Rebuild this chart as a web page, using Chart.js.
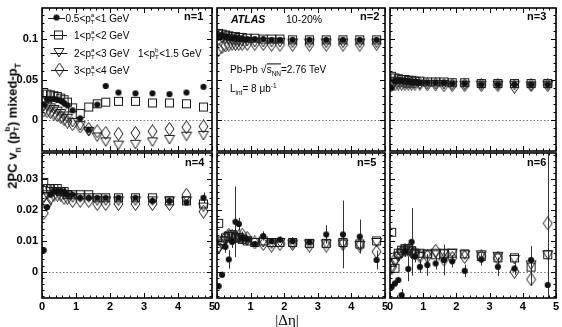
<!DOCTYPE html>
<html>
<head>
<meta charset="utf-8">
<script src="https://cdn.jsdelivr.net/npm/chart.js@4.4.1/dist/chart.umd.min.js"></script>
<style>
  body { margin: 0; background: #fff; width: 562px; height: 327px; position: relative; overflow: hidden;
         font-family: "Liberation Sans", Arial, sans-serif; color: #000; }
  canvas { position: absolute; }
  .t { position: absolute; white-space: nowrap; transform: translateY(-50%); line-height: 1.2; }
  .ss { display: inline-block; position: relative; width: 0.42em; height: 1em; }
  .ss .up, .ss .dn { position: absolute; left: 0; font-size: 0.62em; line-height: 1; }
  .ss .up { top: 0; }
  .ss .dn { top: 1.15em; }
  sub, sup { font-size: 0.65em; line-height: 0; }
</style>
</head>
<body>
<div id="charts"></div>

<div class="t" style="left:184px;top:17px;font-size:11px;font-weight:bold">n=1</div>
<div class="t" style="left:360px;top:17px;font-size:11px;font-weight:bold">n=2</div>
<div class="t" style="left:527px;top:17px;font-size:11px;font-weight:bold">n=3</div>
<div class="t" style="left:185px;top:163px;font-size:11px;font-weight:bold">n=4</div>
<div class="t" style="left:357px;top:163px;font-size:11px;font-weight:bold">n=5</div>
<div class="t" style="left:527px;top:163px;font-size:11px;font-weight:bold">n=6</div>

<div class="t" style="left:231px;top:19px;font-size:10.5px;font-weight:bold;font-style:italic">ATLAS</div>
<div class="t" style="left:286px;top:19px;font-size:10.5px">10-20%</div>
<div class="t" style="left:230px;top:70px;font-size:10px">Pb-Pb <span style="font-size:11px">&#8730;</span><span style="border-top:1px solid #000">s<sub>NN</sub></span>=2.76 TeV</div>
<div class="t" style="left:230px;top:89px;font-size:10px">L<sub>int</sub>= 8 &#956;b<sup>-1</sup></div>

<div class="t" style="left:65.5px;top:17.5px;font-size:10px">0.5&lt;p<span class="ss"><span class="up">a</span><span class="dn">T</span></span>&lt;1 GeV</div>
<div class="t" style="left:74px;top:35px;font-size:10px">1&lt;p<span class="ss"><span class="up">a</span><span class="dn">T</span></span>&lt;2 GeV</div>
<div class="t" style="left:74px;top:52.5px;font-size:10px">2&lt;p<span class="ss"><span class="up">a</span><span class="dn">T</span></span>&lt;3 GeV</div>
<div class="t" style="left:138px;top:52.5px;font-size:10px">1&lt;p<span class="ss"><span class="up">b</span><span class="dn">T</span></span>&lt;1.5 GeV</div>
<div class="t" style="left:74px;top:69.5px;font-size:10px">3&lt;p<span class="ss"><span class="up">a</span><span class="dn">T</span></span>&lt;4 GeV</div>

<div class="t" style="left:12px;top:126px;font-size:13px;font-weight:bold;transform:translate(-50%,-50%) rotate(-90deg)">2PC v<sub>n</sub> (p<span class="ss"><span class="up">b</span><span class="dn">T</span></span>) mixed-p<sub>T</sub></div>
<div class="t" style="left:287px;top:320px;font-size:15px;font-family:'Liberation Serif',serif;transform:translate(-50%,-50%)">|&#916;&#951;|</div>

<script>
// |Delta eta| bin centres
const deta = [0.05, 0.15, 0.25, 0.35, 0.45, 0.55, 0.65, 0.75, 0.9, 1.125, 1.375, 1.625, 1.875, 2.25, 2.75, 3.25, 3.75, 4.25, 4.75];

// n=1
const n1Circ = [0.019, 0.026, 0.026, 0.026, 0.025, 0.024, 0.021, 0.018, 0.012, 0.002, -0.012, 0.019, 0.042, 0.034, 0.033, 0.033, 0.032, 0.034, 0.041];
const n1Sq   = [0.034, 0.032, 0.031, 0.030, 0.029, 0.027, 0.025, 0.022, 0.015, 0.008, 0.016, 0.020, 0.022, 0.023, 0.023, 0.021, 0.021, 0.020, 0.016];
const n1Tri  = [0.017, 0.017, 0.015, 0.013, 0.011, 0.008, 0.005, 0.002, -0.003, -0.007, -0.014, -0.021, -0.027, -0.031, -0.030, -0.027, -0.024, -0.020, -0.019];
const n1Dia  = [0.012, 0.011, 0.010, 0.008, 0.006, 0.004, 0.001, -0.002, -0.005, -0.008, -0.011, -0.014, -0.016, -0.017, -0.016, -0.014, -0.011, -0.009, -0.008];
const n1CircErr = [0, 0, 0, 0, 0, 0, 0, 0, 0, 0, 0, 0, 0, 0, 0, 0, 0, 0, 0.003];

// n=2
const n2Circ = [0.104, 0.104, 0.103, 0.103, 0.102, 0.102, 0.101, 0.101, 0.100, 0.100, 0.100, 0.099, 0.099, 0.099, 0.099, 0.099, 0.099, 0.099, 0.099];
const n2Sq   = [0.107, 0.106, 0.105, 0.104, 0.103, 0.103, 0.102, 0.102, 0.101, 0.101, 0.100, 0.100, 0.100, 0.099, 0.099, 0.099, 0.099, 0.099, 0.099];
const n2Tri  = [0.103, 0.101, 0.100, 0.099, 0.098, 0.098, 0.097, 0.097, 0.097, 0.096, 0.096, 0.096, 0.096, 0.095, 0.095, 0.095, 0.095, 0.095, 0.095];
const n2Dia  = [0.087, 0.090, 0.092, 0.093, 0.094, 0.094, 0.094, 0.094, 0.094, 0.094, 0.094, 0.093, 0.093, 0.093, 0.093, 0.093, 0.093, 0.093, 0.094];

// n=3
const n3Circ = [0.040, 0.048, 0.049, 0.049, 0.048, 0.048, 0.047, 0.047, 0.046, 0.046, 0.046, 0.046, 0.045, 0.045, 0.044, 0.044, 0.044, 0.044, 0.044];
const n3Sq   = [0.054, 0.052, 0.051, 0.050, 0.050, 0.049, 0.049, 0.048, 0.048, 0.047, 0.047, 0.047, 0.046, 0.046, 0.045, 0.045, 0.045, 0.045, 0.045];
const n3Tri  = [0.048, 0.047, 0.046, 0.046, 0.045, 0.045, 0.045, 0.045, 0.044, 0.044, 0.044, 0.044, 0.043, 0.043, 0.043, 0.043, 0.043, 0.042, 0.043];
const n3Dia  = [0.043, 0.044, 0.045, 0.045, 0.045, 0.045, 0.045, 0.045, 0.045, 0.044, 0.044, 0.043, 0.043, 0.043, 0.043, 0.043, 0.041, 0.043, 0.043];

// n=4
const n4Circ = [0.007, 0.021, 0.025, 0.026, 0.026, 0.026, 0.026, 0.025, 0.025, 0.024, 0.024, 0.024, 0.024, 0.024, 0.024, 0.023, 0.023, 0.0225, 0.024];
const n4Sq   = [0.029, 0.027, 0.027, 0.027, 0.027, 0.026, 0.026, 0.025, 0.025, 0.025, 0.025, 0.024, 0.024, 0.024, 0.024, 0.024, 0.023, 0.023, 0.022];
const n4Tri  = [0.024, 0.025, 0.026, 0.026, 0.026, 0.026, 0.025, 0.025, 0.024, 0.024, 0.024, 0.023, 0.023, 0.023, 0.023, 0.023, 0.023, 0.023, 0.021];
const n4Dia  = [0.019, 0.022, 0.024, 0.025, 0.025, 0.025, 0.024, 0.024, 0.023, 0.023, 0.023, 0.022, 0.022, 0.022, 0.022, 0.022, 0.022, 0.025, 0.0195];
const n4CircErr = [0, 0, 0, 0, 0, 0, 0, 0, 0, 0, 0, 0, 0, 0, 0, 0, 0, 0.001, 0.0017];

// n=5
const n5Circ = [-0.0047, -0.001, 0.0081, 0.004, 0.0097, 0.0162, 0.0155, 0.011, 0.0105, 0.009, 0.0116, 0.0099, 0.0104, 0.0099, 0.0096, 0.0121, 0.0121, 0.0114, 0.0038];
const n5Sq   = [0.0157, 0.010, 0.011, 0.0115, 0.012, 0.011, 0.011, 0.0105, 0.010, 0.0095, 0.010, 0.0095, 0.0095, 0.0095, 0.0092, 0.0092, 0.0095, 0.009, 0.010];
const n5Tri  = [0.0076, 0.009, 0.010, 0.0115, 0.0115, 0.011, 0.011, 0.0105, 0.010, 0.0095, 0.0095, 0.009, 0.0095, 0.009, 0.009, 0.009, 0.009, 0.0085, 0.0095];
const n5Dia  = [0.008, 0.0095, 0.011, 0.012, 0.0115, 0.0115, 0.0115, 0.012, 0.011, 0.0095, 0.009, 0.0085, 0.009, 0.009, 0.0085, 0.0085, 0.009, 0.0085, 0.0065];
const n5CircErr = [0.001, 0.001, 0.002, 0.003, 0.002, 0.0115, 0.002, 0.002, 0.001, 0.001, 0.0015, 0.001, 0.001, 0.001, 0.001, 0.003, 0.011, 0.0055, 0.003];

// n=6
const n6Circ = [-0.0049, -0.0038, -0.0027, -0.0076, 0.0068, 0.0009, 0.0097, 0.005, 0.0016, 0.0022, 0.0027, 0.0038, 0.0034, 0.0003, 0.004, 0.0016, 0.001, 0.0038, -0.0043];
const n6Sq   = [0.0128, 0.0011, 0.006, 0.007, 0.0075, 0.0075, 0.0068, 0.006, 0.006, 0.0058, 0.0055, 0.0058, 0.006, 0.0058, 0.005, 0.0045, 0.0045, 0.0015, 0.0055];
const n6Tri  = [0.0005, 0.003, 0.005, 0.006, 0.0068, 0.007, 0.006, 0.0055, 0.005, 0.0055, 0.006, 0.006, 0.006, 0.0055, 0.0055, 0.005, 0.004, 0.0022, 0.0055];
const n6Dia  = [0.002, 0.004, 0.0055, 0.0065, 0.007, 0.007, 0.0065, 0.006, 0.005, 0.005, 0.0068, 0.004, 0.0045, 0.0048, 0.005, 0.0045, 0.0, -0.0025, 0.0157];
const n6CircErr = [0.001, 0.001, 0.001, 0.002, 0.002, 0.004, 0.011, 0.002, 0.002, 0.0035, 0.002, 0.005, 0.002, 0.002, 0.002, 0.003, 0.002, 0.0045, 0.05];
const n6DiaErr  = [0, 0, 0, 0, 0, 0, 0, 0, 0, 0, 0, 0, 0, 0, 0, 0, 0, 0.002, 0.03];

// axis ranges and ticks
const topRange = [-0.0383, 0.1383];
const botRange = [-0.00854, 0.03854];
const topTicks = [0, 0.05, 0.1];
const botTicks = [0, 0.01, 0.02, 0.03];
const xTicks = [0, 1, 2, 3, 4, 5];

const panels = [
  { circ: n1Circ, sq: n1Sq, tri: n1Tri, dia: n1Dia, circErr: n1CircErr },
  { circ: n2Circ, sq: n2Sq, tri: n2Tri, dia: n2Dia },
  { circ: n3Circ, sq: n3Sq, tri: n3Tri, dia: n3Dia },
  { circ: n4Circ, sq: n4Sq, tri: n4Tri, dia: n4Dia, circErr: n4CircErr },
  { circ: n5Circ, sq: n5Sq, tri: n5Tri, dia: n5Dia, circErr: n5CircErr },
  { circ: n6Circ, sq: n6Sq, tri: n6Tri, dia: n6Dia, circErr: n6CircErr, diaErr: n6DiaErr }
];

// page layout of the frames
const colX = [[42, 212], [217, 385], [390, 556]];
const rowY = [[8, 151], [153, 298]];

function marker(kind) {
  const c = document.createElement('canvas');
  const g = c.getContext('2d');
  g.strokeStyle = '#1a1a1a';
  g.fillStyle = '#111';
  g.lineWidth = 1;
  if (kind === 'circle') {
    c.width = 8; c.height = 8;
    g.fillStyle = '#111';
    g.beginPath(); g.arc(4, 4, 3.1, 0, Math.PI * 2); g.fill();
  } else if (kind === 'square') {
    c.width = 11; c.height = 11;
    g.strokeStyle = '#1a1a1a';
    g.strokeRect(1.5, 1.5, 8, 8);
  } else if (kind === 'tri') {
    c.width = 12; c.height = 11;
    g.strokeStyle = '#1a1a1a';
    g.beginPath(); g.moveTo(1, 1.5); g.lineTo(11, 1.5); g.lineTo(6, 10); g.closePath(); g.stroke();
  } else {
    c.width = 11; c.height = 14;
    g.strokeStyle = '#1a1a1a';
    g.beginPath(); g.moveTo(5.5, 0.5); g.lineTo(10, 7); g.lineTo(5.5, 13.5); g.lineTo(1, 7); g.closePath(); g.stroke();
  }
  return c;
}
const mCircle = marker('circle');
const mSquare = marker('square');
const mTri = marker('tri');
const mDia = marker('dia');

function pts(arr) {
  return deta.map((x, i) => ({ x: x, y: arr[i] }));
}

const errorBars = {
  id: 'errorBars',
  beforeDatasetsDraw(chart) {
    const { ctx, chartArea: a, scales: { x, y } } = chart;
    ctx.save();
    ctx.beginPath();
    ctx.rect(a.left, a.top, a.right - a.left, a.bottom - a.top);
    ctx.clip();
    // dotted zero line
    const y0 = y.getPixelForValue(0);
    ctx.strokeStyle = '#777';
    ctx.lineWidth = 1;
    ctx.setLineDash([1.5, 2]);
    ctx.beginPath(); ctx.moveTo(a.left, Math.round(y0) + 0.5); ctx.lineTo(a.right, Math.round(y0) + 0.5); ctx.stroke();
    ctx.setLineDash([]);
    ctx.strokeStyle = '#333';
    chart.data.datasets.forEach(ds => {
      if (!ds.errs) return;
      ds.data.forEach((p, i) => {
        const e = ds.errs[i];
        if (!e) return;
        const px = Math.round(x.getPixelForValue(p.x)) + 0.5;
        ctx.beginPath();
        ctx.moveTo(px, y.getPixelForValue(p.y + e));
        ctx.lineTo(px, y.getPixelForValue(p.y - e));
        ctx.stroke();
      });
    });
    ctx.restore();
  }
};

const frame = {
  id: 'frame',
  afterDatasetsDraw(chart, args, opts) {
    const { ctx, chartArea: a, scales: { x, y } } = chart;
    ctx.save();
    ctx.strokeStyle = '#000';
    ctx.lineWidth = 1;
    ctx.beginPath();
    for (let v = 0; v <= 5.0001; v += 0.2) {
      const px = Math.round(x.getPixelForValue(v)) + 0.5;
      const len = Math.abs(v - Math.round(v)) < 1e-6 ? 5 : 2.5;
      ctx.moveTo(px, a.bottom); ctx.lineTo(px, a.bottom - len);
      ctx.moveTo(px, a.top); ctx.lineTo(px, a.top + len);
    }
    const minor = opts.minor, major = opts.major;
    const start = Math.ceil(y.min / minor - 1e-6);
    const end = Math.floor(y.max / minor + 1e-6);
    for (let k = start; k <= end; k++) {
      const v = k * minor;
      const py = Math.round(y.getPixelForValue(v)) + 0.5;
      const isMajor = Math.abs(v / major - Math.round(v / major)) < 1e-6;
      const len = isMajor ? 5 : 2.5;
      ctx.moveTo(a.left, py); ctx.lineTo(a.left + len, py);
      ctx.moveTo(a.right, py); ctx.lineTo(a.right - len, py);
    }
    ctx.stroke();
    ctx.lineWidth = 1.6;
    ctx.strokeRect(a.left, a.top, a.right - a.left, a.bottom - a.top);
    ctx.restore();
  }
};

const legendMarks = {
  id: 'legendMarks',
  afterDraw(chart, args, opts) {
    if (!opts.show) return;
    const ctx = chart.ctx;
    const ox = opts.ox, oy = opts.oy;
    const rows = [[56.5, 17.5, mCircle], [58.5, 35, mSquare], [59, 52.5, mTri], [59.5, 69.5, mDia]];
    ctx.save();
    ctx.strokeStyle = '#1a1a1a';
    ctx.lineWidth = 1;
    rows.forEach(([mx, my, img]) => {
      const cx = mx - ox, cy = my - oy;
      ctx.beginPath();
      ctx.moveTo(cx - 8.5, Math.round(cy) + 0.5);
      ctx.lineTo(cx + 8.5, Math.round(cy) + 0.5);
      ctx.stroke();
      ctx.drawImage(img, cx - img.width / 2, cy - img.height / 2);
    });
    ctx.restore();
  }
};

const tickFont = { family: '"Liberation Sans", Arial, sans-serif', size: 11, weight: 'bold' };

panels.forEach((p, idx) => {
  const row = idx < 3 ? 0 : 1;
  const col = idx % 3;
  // room around the frame: axis boxes take the label space, layout padding the rest
  const axisW = col === 0 ? 40 : 0;
  const axisH = row === 1 ? 20 : 0;
  const padL = 12, padR = 12, padT = 12, padB = 12;
  const [x0, x1] = colX[col];
  const [y0, y1] = rowY[row];
  const offX = x0 - padL - axisW;
  const offY = y0 - padT;
  const cv = document.createElement('canvas');
  const W = x1 - x0 + padL + axisW + padR;
  const H = y1 - y0 + padT + axisH + padB;
  cv.width = W; cv.height = H;
  cv.style.left = offX + 'px';
  cv.style.top = offY + 'px';
  cv.style.width = W + 'px';
  cv.style.height = H + 'px';
  document.getElementById('charts').appendChild(cv);

  const range = row === 0 ? topRange : botRange;
  const yTicks = row === 0 ? topTicks : botTicks;

  new Chart(cv, {
    type: 'scatter',
    data: {
      datasets: [
        { data: pts(p.circ), pointStyle: mCircle, pointRadius: 3, errs: p.circErr },
        { data: pts(p.sq), pointStyle: mSquare, pointRadius: 4 },
        { data: pts(p.tri), pointStyle: mTri, pointRadius: 4 },
        { data: pts(p.dia), pointStyle: mDia, pointRadius: 4, errs: p.diaErr }
      ]
    },
    options: {
      responsive: false,
      animation: false,
      events: [],
      layout: { padding: { left: padL, right: padR, top: padT, bottom: padB } },
      plugins: {
        legend: { display: false },
        tooltip: { enabled: false },
        frame: { minor: row === 0 ? 0.01 : 0.002, major: row === 0 ? 0.05 : 0.01 },
        legendMarks: { show: idx === 0, ox: offX, oy: offY }
      },
      scales: {
        x: {
          type: 'linear', min: 0, max: 5,
          grid: { display: false, drawTicks: false },
          border: { display: false },
          afterFit: s => { s.height = axisH; },
          afterBuildTicks: s => { s.ticks = xTicks.map(v => ({ value: v })); },
          ticks: { display: row === 1, padding: 2, color: '#000', font: tickFont, maxRotation: 0, autoSkip: false,
                   callback: v => String(v) }
        },
        y: {
          type: 'linear', min: range[0], max: range[1],
          grid: { display: false, drawTicks: false },
          border: { display: false },
          afterFit: s => { s.width = axisW; },
          afterBuildTicks: s => { s.ticks = yTicks.map(v => ({ value: v })); },
          ticks: { display: col === 0, padding: 4, color: '#000', font: tickFont, autoSkip: false,
                   callback: v => String(v) }
        }
      }
    },
    plugins: [errorBars, frame, legendMarks]
  });
});
</script>
</body>
</html>
